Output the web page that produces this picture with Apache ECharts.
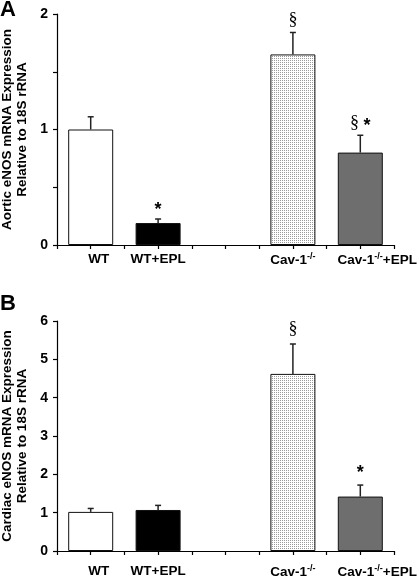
<!DOCTYPE html>
<html>
<head>
<meta charset="utf-8">
<script src="https://cdn.jsdelivr.net/npm/echarts@6/dist/echarts.min.js"></script>
<style>
html,body{margin:0;padding:0;background:#fff;}
#c{width:420px;height:576px;}
</style>
</head>
<body>
<div id="c"></div>
<script>
// ---- data ----
const categories = ['WT', 'WT+EPL', '', 'Cav-1-/-', 'Cav-1-/-+EPL'];
const aorticValues = [1.00, 0.19, null, 1.65, 0.80];
const aorticErrors = [0.11, 0.035, null, 0.19, 0.15];
const aorticMarks = ['', '*', '', '§', '§ *'];
const cardiacValues = [1.02, 1.07, null, 4.62, 1.42];
const cardiacErrors = [0.09, 0.12, null, 0.78, 0.30];
const cardiacMarks = ['', '', '', '§', '*'];
const aorticTicks = [0, 1, 2];
const cardiacTicks = [0, 1, 2, 3, 4, 5, 6];

// ---- styles ----
const labelLeftPad = [16, 0, 0, 0, 34];
function dotPattern() {
  const cv = document.createElement('canvas');
  cv.width = 2; cv.height = 2;
  const ctx = cv.getContext('2d');
  ctx.fillStyle = '#ffffff';
  ctx.fillRect(0, 0, 2, 2);
  ctx.fillStyle = '#9a9a9a';
  ctx.fillRect(0, 0, 1, 1);
  return cv;
}
const barFills = ['#ffffff', '#000000', '#ffffff', { image: dotPattern(), repeat: 'repeat' }, '#6e6e6e'];
const FONT = 'Liberation Sans, Arial, sans-serif';

function barData(vals) {
  return vals.map((v, i) => ({
    value: v,
    itemStyle: { color: barFills[i], borderColor: '#111', borderWidth: 1 }
  }));
}
function errData(vals, errs, marks) {
  return vals.map((v, i) => [i, v, errs[i], marks[i]]);
}
function errRender(gap) {
  return function (params, api) {
    const v = api.value(1);
    if (v == null || isNaN(v)) return null;
    const e = api.value(2);
    const mark = api.value(3);
    const p0 = api.coord([api.value(0), v]);
    const p1 = api.coord([api.value(0), v + e]);
    const children = [
      { type: 'line', shape: { x1: p0[0], y1: p0[1], x2: p1[0], y2: p1[1] },
        style: { stroke: '#222', lineWidth: 1.5 } },
      { type: 'line', shape: { x1: p1[0] - 3, y1: p1[1], x2: p1[0] + 3, y2: p1[1] },
        style: { stroke: '#222', lineWidth: 1.5 } }
    ];
    if (mark) {
      const rich = mark.split('').map(ch => ch === '§' ? '{s|§}' : (ch === '*' ? '{a|*}' : ch)).join('');
      children.push({
        type: 'text',
        x: p1[0], y: p1[1] - gap,
        style: {
          text: rich, align: 'center', verticalAlign: 'middle',
          rich: {
            s: { fontFamily: 'Liberation Serif, Times New Roman, serif', fontSize: 18, fill: '#000' },
            a: { fontFamily: FONT, fontWeight: 'bold', fontSize: 18, fill: '#000', padding: [6, 0, 0, 0] }
          },
          fontFamily: 'Liberation Serif, serif', fontSize: 18, fill: '#000'
        }
      });
    }
    return { type: 'group', children: children };
  };
}

function labelFmt(v) {
  const m = v.match(/^Cav-1-\/-(.*)$/);
  if (m) return 'Cav-1{sup|-/-}' + m[1];
  return v;
}
const xLabelRich = {
  sup: { fontSize: 9, fontWeight: 'bold', fontFamily: FONT, color: '#000', padding: [0, 0, 7, 0] }
};
const catItems = categories.map((c, i) => ({
  value: c,
  textStyle: { padding: [0, 0, 0, labelLeftPad[i]] }
}));

function mainX(grid, margin) {
  return {
    type: 'category', gridIndex: grid, data: catItems, position: 'bottom',
    axisLine: { lineStyle: { color: '#000', width: 1.2 } },
    axisTick: { show: true, length: 4, lineStyle: { color: '#000', width: 1.2 } },
    axisLabel: { color: '#000', fontFamily: FONT, fontWeight: 'bold', fontSize: 13.5, margin: margin,
      interval: 0, hideOverlap: false, formatter: labelFmt, rich: xLabelRich },
    splitLine: { show: false }
  };
}
function centerX(grid) {
  return {
    type: 'category', gridIndex: grid, data: categories, position: 'bottom', offset: 0,
    axisLine: { show: false },
    axisTick: { show: true, alignWithLabel: true, length: 4, interval: 0, lineStyle: { color: '#000', width: 1.2 } },
    axisLabel: { show: false },
    splitLine: { show: false }
  };
}
function yAx(grid, ticks, name, minor) {
  return {
    type: 'value', gridIndex: grid, min: ticks[0], max: ticks[ticks.length - 1], interval: ticks[1] - ticks[0],
    name: name, nameLocation: 'middle', nameGap: 26,
    nameTextStyle: { color: '#000', fontFamily: FONT, fontWeight: 'bold', fontSize: 13.5, lineHeight: 15 },
    axisLine: { show: true, lineStyle: { color: '#000', width: 1.2 } },
    axisTick: { show: true, length: 4, lineStyle: { color: '#000', width: 1.2 } },
    minorTick: { show: minor, splitNumber: 2, length: 4, lineStyle: { color: '#000', width: 1.2 } },
    axisLabel: { color: '#000', fontFamily: FONT, fontWeight: 'bold', fontSize: 14, margin: 9 },
    splitLine: { show: false }
  };
}

const chart = echarts.init(document.getElementById('c'), null, { renderer: 'canvas' });
chart.setOption({
  animation: false,
  backgroundColor: '#fff',
  grid: [
    { left: 57, right: 26, top: 14, height: 231, containLabel: false, outerBoundsMode: 'none' },
    { left: 57, right: 26, top: 321, height: 230, containLabel: false, outerBoundsMode: 'none' }
  ],
  xAxis: [mainX(0, 7), centerX(0), mainX(1, 13), centerX(1)],
  yAxis: [
    yAx(0, aorticTicks, 'Aortic eNOS mRNA Expression\nRelative to 18S rRNA', true),
    yAx(1, cardiacTicks, 'Cardiac eNOS mRNA Expression\nRelative to 18S rRNA', false)
  ],
  graphic: [
    { type: 'text', left: 0, top: -1, style: { text: 'A', font: 'bold 22px ' + FONT, fill: '#000' } },
    { type: 'text', left: 0, top: 293, style: { text: 'B', font: 'bold 22px ' + FONT, fill: '#000' } }
  ],
  series: [
    { type: 'bar', xAxisIndex: 0, yAxisIndex: 0, barWidth: 45, data: barData(aorticValues), z: 2 },
    { type: 'custom', xAxisIndex: 0, yAxisIndex: 0, renderItem: errRender(12),
      data: errData(aorticValues, aorticErrors, aorticMarks), z: 3 },
    { type: 'bar', xAxisIndex: 2, yAxisIndex: 1, barWidth: 45, data: barData(cardiacValues), z: 2 },
    { type: 'custom', xAxisIndex: 2, yAxisIndex: 1, renderItem: errRender(15),
      data: errData(cardiacValues, cardiacErrors, cardiacMarks), z: 3 }
  ]
});
</script>
</body>
</html>
